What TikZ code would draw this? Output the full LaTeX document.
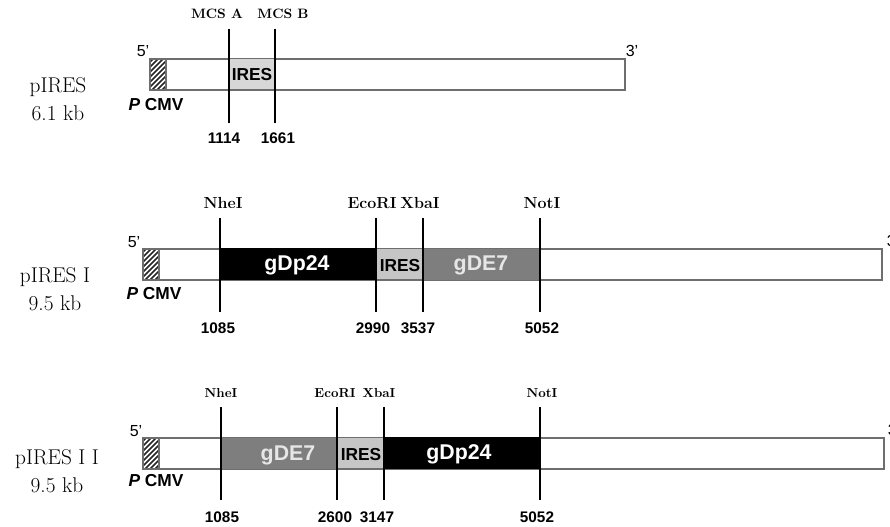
\documentclass[tikz,border=0pt]{standalone}
\usepackage{fontspec}
\setsansfont{Liberation Sans}
\definecolor{iresgray}{HTML}{C6C6C6}
\definecolor{egray}{HTML}{7E7E7E}
\definecolor{barline}{HTML}{6E6E6E}
\definecolor{etext}{HTML}{E6E6E6}
\tikzset{
  bar/.style={draw=barline,line width=0.9pt,fill=white},
  hatch/.style={line width=1.1pt,black!85},
  site/.style={line width=1.6pt},
  sitelabel/.style={font=\bfseries\fontsize{#1}{13}\selectfont},
  sitelabel/.default=11,
  poslabel/.style={font=\sffamily\bfseries\fontsize{11.5}{13}\selectfont},
  genelabel/.style={font=\sffamily\bfseries\fontsize{16}{18}\selectfont},
  ireslabel/.style={font=\sffamily\bfseries\fontsize{13}{15}\selectfont},
  endlabel/.style={font=\sffamily\fontsize{12}{14}\selectfont},
  cmvlabel/.style={font=\sffamily\bfseries\fontsize{13}{15}\selectfont},
  plasname/.style={font=\fontsize{16}{21}\selectfont,align=center},
}

\begin{document}
\begin{tikzpicture}[x=0.75pt,y=-0.75pt]
\useasboundingbox (0,0) rectangle (890,527);
% --- pIRES ---
\node[plasname] (n1) at (58,99) {pIRES\\6.1 kb};
\draw[bar] (150,59) rectangle (625,90);
\fill[iresgray!70] (229,59.5) rectangle (275,89.5);
\node[ireslabel] (ires1) at (252,75) {IRES};
\node[endlabel] (fa) at (143,51) {5'};
\node[endlabel] (ta) at (632,51) {3'};
\node[cmvlabel] (cmva) at (156,105) {\textit{P} CMV};
\foreach \x/\lab/\lx/\num/\nx [count=\i] in {229/MCS A/217/1114/224, 275/MCS B/283/1661/278}{
  \draw[site] (\x,29) -- (\x,123);
  \node[sitelabel=10.2] (ma\i) at (\lx,14) {\lab};
  \node[poslabel] (pa\i) at (\nx,138) {\num};
}
% --- pIRES I ---
\node[plasname] (n2) at (55,289) {pIRES I\\9.5 kb};
\draw[bar] (143,249) rectangle (882,280);
\fill[black] (220,248.5) rectangle (376,280.5);
\fill[iresgray] (376,249.5) rectangle (423,279.5);
\fill[egray] (423,249) rectangle (540,280);
\node[genelabel,text=white] (gp2) at (297,265) {gDp24};
\node[ireslabel] (ires2) at (400,266) {IRES};
\node[genelabel,text=etext] (ge2) at (481,265) {gDE7};
\node[endlabel] (fb) at (134,242) {5'};
\node[endlabel] (tb) at (893,241) {3'};
\node[cmvlabel] (cmvb) at (154,294) {\textit{P} CMV};
\foreach \x/\lab/\lx/\num/\nx [count=\i] in {220/NheI/223/1085/218, 376/EcoRI/372/2990/373,
    423/XbaI/420/3537/418, 540/NotI/542/5052/542}{
  \draw[site] (\x,218) -- (\x,312);
  \node[sitelabel=12] (mb\i) at (\lx,203) {\lab};
  \node[poslabel] (pb\i) at (\nx,328) {\num};
}
% --- pIRES I I ---
\node[plasname] (n3) at (57,471) {pIRES I I\\9.5 kb};
\draw[bar] (143,438) rectangle (884,469);
\fill[egray] (221,438) rectangle (337,469);
\fill[iresgray] (337,438.5) rectangle (384,468.5);
\fill[black] (384,437.5) rectangle (540,469.5);
\node[genelabel,text=etext] (ge3) at (288,455) {gDE7};
\node[ireslabel] (ires3) at (361,455) {IRES};
\node[genelabel,text=white] (gp3) at (459,454) {gDp24};
\node[endlabel] (fc) at (136,431) {5'};
\node[endlabel] (tc) at (894,430) {3'};
\node[cmvlabel] (cmvc) at (156,481) {\textit{P} CMV};
\foreach \x/\lab/\lx/\num/\nx [count=\i] in {221/NheI/221/1085/222, 337/EcoRI/335/2600/335,
    384/XbaI/379/3147/377, 540/NotI/542/5052/537}{
  \draw[site] (\x,407) -- (\x,500);
  \node[sitelabel=9.8] (mc\i) at (\lx,393) {\lab};
  \node[poslabel] (pc\i) at (\nx,517) {\num};
}
% CMV promoter boxes (hatched)
\foreach \px/\py in {150/59, 143/249, 143/438}{
  \begin{scope}
    \clip (\px,\py) rectangle (\px+16,\py+31);
    \fill[white] (\px,\py) rectangle (\px+16,\py+31);
    \foreach \d in {-33,-28,...,17}
      \draw[hatch] (\px+\d,\py+31) -- (\px+\d+31,\py);
  \end{scope}
  \draw[draw=barline,line width=0.9pt] (\px,\py) rectangle (\px+16,\py+31);
}
\end{tikzpicture}
\end{document}
